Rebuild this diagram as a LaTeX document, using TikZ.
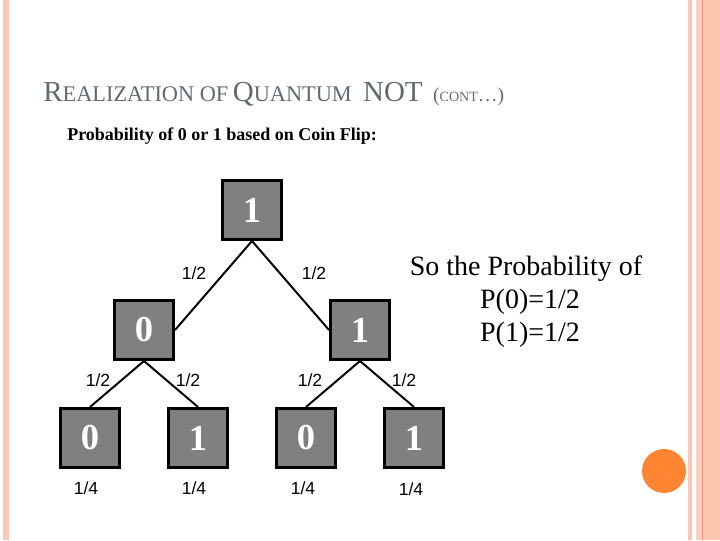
\documentclass[tikz,border=0pt]{standalone}
\usepackage{fontspec}
\setmainfont{Liberation Serif}
\setsansfont{Liberation Sans}
\definecolor{barlight}{HTML}{FBC6B4}
\definecolor{barpale}{HTML}{FFD0C0}
\definecolor{barmid}{HTML}{FFC4AE}
\definecolor{barline}{HTML}{E8956A}
\definecolor{dotorange}{HTML}{FF8533}
\definecolor{titlegray}{HTML}{5F6B70}
\definecolor{boxgray}{HTML}{808080}
\tikzset{
  bit/.style={draw=black, fill=boxgray, line width=2.1pt, minimum size=1.475cm, inner sep=0pt,
    text=white, font=\fontsize{26}{26}\selectfont\bfseries},
  prob/.style={font=\sffamily\fontsize{12.5}{14}\selectfont, inner sep=0pt},
  branch/.style={line width=1.4pt, black},
  bar/.style={draw=none}
}
\begin{document}
\begin{tikzpicture}[x=0.025cm, y=-0.025cm]
  \useasboundingbox (0,0) rectangle (720,540);
  \fill[white] (0,0) rectangle (720,540);

  % side bars
  \fill[barlight, bar] (3,0) rectangle (9,540);
  \fill[barlight, bar] (688,0) rectangle (692,540);
  \fill[barpale, bar] (696,0) rectangle (702,540);
  \fill[barmid, bar] (703,0) rectangle (720,540);
  \fill[barlight, bar] (703,0) rectangle (710,540);
  \fill[barline, bar] (702,0) rectangle (703,540);
  \node[circle, fill=dotorange, minimum size=1.1cm, inner sep=0pt] (dot) at (664,471) {};

  \node[anchor=base west, inner sep=0pt, text=titlegray, font=\fontsize{20.6}{24}\selectfont] (title) at (43,101)
    {R{\fontsize{15.9}{24}\selectfont EALIZATION OF}\hspace*{-0.07cm} Q{\fontsize{15.9}{24}\selectfont UANTUM}\hspace*{0.1cm} NOT\hspace*{0.08cm} {\fontsize{14}{24}\selectfont (}{\fontsize{10}{24}\selectfont CONT}{\fontsize{14}{24}\selectfont \dots)}};
  \node[anchor=base west, inner sep=0pt, font=\fontsize{12.8}{14}\selectfont\bfseries] (sub) at (67,140)
    {Probability of 0 or 1 based on Coin Flip:};

  \node[bit] (top) at (252,210) {1};
  \node[bit] (l) at (144,330) {0};
  \node[bit] (r) at (360,330) {1};
  \foreach \name/\px/\val in {ll/90/0,lr/198/1,rl/306/0,rr/414/1}{
    \node[bit] (\name) at (\px,438) {\val};
  }

  \draw[branch] (top.south) -- (l.east);
  \draw[branch] (top.south) -- (r.west);
  \draw[branch] (l.south) -- (ll.north);
  \draw[branch] (l.south) -- (lr.north);
  \draw[branch] (r.south) -- (rl.north);
  \draw[branch] (r.south) -- (rr.north);

  \node[prob] (pl) at (194,273) {1/2};
  \node[prob] (pr) at (314,273) {1/2};
  \node[prob] (pll) at (98,380) {1/2};
  \node[prob] (plr) at (188,380) {1/2};
  \node[prob] (prl) at (310,380) {1/2};
  \node[prob] (prr) at (404,380) {1/2};
  \node[prob] (qa) at (86,488) {1/4};
  \node[prob] (qb) at (194,488) {1/4};
  \node[prob] (qc) at (303,488) {1/4};
  \node[prob] (qd) at (411,489) {1/4};

  \node[align=center, inner sep=0pt, font=\fontsize{19.9}{23.5}\selectfont] (result) at (526,302)
    {So the Probability of\\\hspace*{0.2cm}P(0)=1/2\\\hspace*{0.2cm}P(1)=1/2};
\end{tikzpicture}
\end{document}
